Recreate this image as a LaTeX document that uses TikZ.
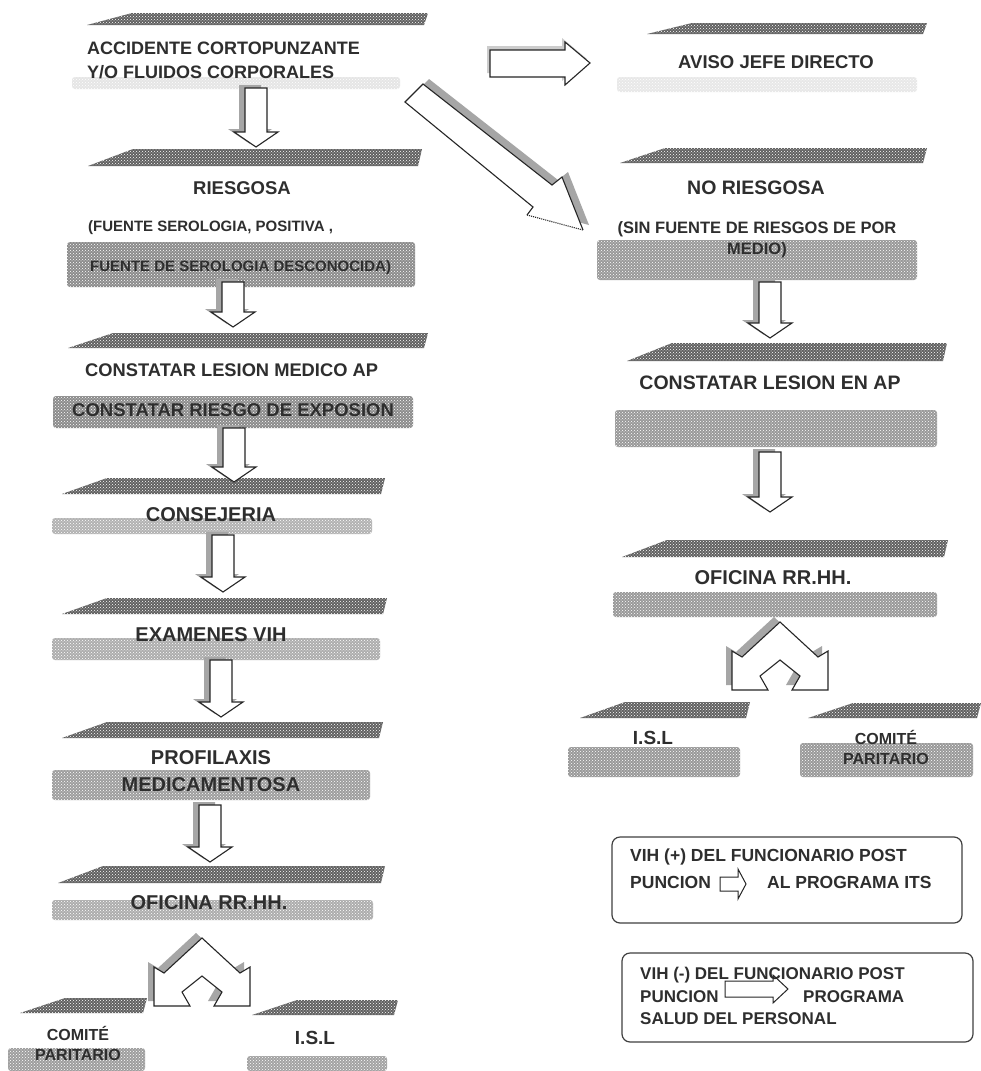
\documentclass[tikz,border=0pt]{standalone}
\usepackage{fontspec}
\setmainfont{Liberation Sans}
\usetikzlibrary{patterns}
\newcommand\tbar[4]{\fill[topbar] (#1,#4) -- ({#1+45},#3) -- (#2,#3) -- ({#2-4},#4) -- cycle;
  \fill[pattern=crosshatch dots, pattern color=white] (#1,#4) -- ({#1+45},#3) -- (#2,#3) -- ({#2-4},#4) -- cycle;}
\newcommand\bandr[5]{\fill[band=#5] (#1,#2) rectangle (#3,#4);
  \fill[pattern=crosshatch dots, pattern color=white, rounded corners=3pt] (#1,#2) rectangle (#3,#4);}
\newcommand\fs[1]{\fontsize{#1}{#1}\selectfont}
\begin{document}
\begin{tikzpicture}[x=1pt,y=-1pt,
  topbar/.style={fill=black!62},
  band/.style={fill=black!#1, rounded corners=3pt},
  lbl/.style={font=\bfseries, text=black!82, inner sep=0pt},
  blk/.style={draw=black!85, line width=1.1pt, fill=white, line join=miter},
  shd/.style={fill=black!35},
  rbox/.style={draw=black!75, line width=1.2pt, rounded corners=8pt, inner sep=0pt},
  pics/downarr/.style={code={
    \fill[shd,shift={(-6,-3)}] (-11,0) -- (11,0) -- (11,{#1-15}) -- (22,{#1-15}) -- (0,#1) -- (-22,{#1-15}) -- (-11,{#1-15}) -- cycle;
    \draw[blk] (-11,0) -- (11,0) -- (11,{#1-15}) -- (22,{#1-15}) -- (0,#1) -- (-22,{#1-15}) -- (-11,{#1-15}) -- cycle;
  }},
  pics/splitarr/.style={code={
    \fill[shd,shift={(-6,-5)}] (0,0) -- (38,35) -- (48,29) -- (48,68) -- (12,68) -- (20,54) -- (0,38) -- (-20,54) -- (-12,68) -- (-48,68) -- (-48,29) -- (-38,35) -- cycle;
    \draw[blk] (0,0) -- (38,35) -- (48,29) -- (48,68) -- (12,68) -- (20,54) -- (0,38) -- (-20,54) -- (-12,68) -- (-48,68) -- (-48,29) -- (-38,35) -- cycle;
  }}
]
\useasboundingbox (0,0) rectangle (981,1071);
\fill[white] (0,0) rectangle (981,1071);

% ---------- bars and bands: left column ----------
\tbar{87}{428}{13}{25}
\bandr{72}{77}{400}{89}{10}
\tbar{88}{422}{149}{166}
\bandr{67}{242}{415}{287}{45}
\tbar{68}{428}{333}{348}
\bandr{53}{396}{413}{428}{45}
\tbar{62}{385}{478}{494}
\bandr{52}{518}{372}{534}{30}
\tbar{62}{387}{598}{614}
\bandr{52}{638}{380}{660}{32}
\tbar{62}{383}{722}{738}
\bandr{52}{770}{370}{800}{38}
\tbar{58}{385}{866}{883}
\bandr{52}{900}{373}{920}{32}
\tbar{20}{147}{998}{1013}
\bandr{8}{1048}{145}{1071}{38}
\tbar{252}{398}{1000}{1015}
\bandr{247}{1056}{387}{1071}{36}

% ---------- bars and bands: right column ----------
\tbar{647}{927}{23}{34}
\bandr{617}{77}{917}{92}{9}
\tbar{620}{927}{148}{163}
\bandr{597}{240}{917}{280}{40}
\tbar{627}{947}{343}{361}
\bandr{615}{410}{937}{447}{40}
\tbar{622}{948}{540}{557}
\bandr{613}{592}{937}{617}{40}
\tbar{580}{750}{702}{718}
\bandr{568}{747}{740}{777}{40}
\tbar{808}{981}{703}{718}
\bandr{800}{743}{973}{777}{40}

% ---------- labels ----------
\node[lbl, anchor=west, align=left, font=\bfseries\fontsize{18}{24}\selectfont] (acc) at (87,60) {ACCIDENTE CORTOPUNZANTE\\Y/O FLUIDOS CORPORALES};
\node[lbl, font=\bfseries\fs{18.5}] (ries) at (242,188) {RIESGOSA};
\node[lbl, anchor=west, font=\bfseries\fs{15}] (fu1) at (88,228) {(FUENTE SEROLOGIA, POSITIVA ,};
\node[lbl, anchor=west, font=\bfseries\fs{15}] (fu2) at (90,268) {FUENTE DE SEROLOGIA DESCONOCIDA)};
\node[lbl, anchor=west, font=\bfseries\fs{18.3}] (cl1) at (85,370) {CONSTATAR LESION MEDICO AP};
\node[lbl, anchor=west, font=\bfseries\fs{18.5}] (cl2) at (72,410) {CONSTATAR RIESGO DE EXPOSION};
\node[lbl, font=\bfseries\fs{20}] (consej) at (211,515) {CONSEJERIA};
\node[lbl, font=\bfseries\fs{20}] (exam) at (211,635) {EXAMENES VIH};
\node[lbl, align=center, font=\bfseries\fontsize{20}{27}\selectfont] (prof) at (211,771) {PROFILAXIS\\MEDICAMENTOSA};
\node[lbl, font=\bfseries\fs{20}] (ofiL) at (209,903) {OFICINA RR.HH.};
\node[lbl, align=center, font=\bfseries\fontsize{16}{20}\selectfont] (comL) at (78,1043) {COMITÉ\\PARITARIO};
\node[lbl, font=\bfseries\fs{19}] (islL) at (315,1038) {I.S.L};

\node[lbl, font=\bfseries\fs{18.5}] (aviso) at (776,62) {AVISO JEFE DIRECTO};
\node[lbl, font=\bfseries\fs{19.5}] (nories) at (756,188) {NO RIESGOSA};
\node[lbl, align=center, font=\bfseries\fontsize{16.5}{21}\selectfont] (sin) at (757,240) {(SIN FUENTE DE RIESGOS DE POR\\MEDIO)};
\node[lbl, font=\bfseries\fs{19.5}] (clR) at (770,383) {CONSTATAR LESION EN AP};
\node[lbl, font=\bfseries\fs{20}] (ofiR) at (773,578) {OFICINA RR.HH.};
\node[lbl, font=\bfseries\fs{19}] (islR) at (653,738) {I.S.L};
\node[lbl, align=center, font=\bfseries\fontsize{16}{20}\selectfont] (comR) at (886,747) {COMITÉ\\PARITARIO};

% ---------- block arrows ----------
\pic (a1) at (256,88) {downarr=59};
\pic (a2) at (233,282) {downarr=45};
\pic (a3) at (234,428) {downarr=54};
\pic (a4) at (223,535) {downarr=57};
\pic (a5) at (221,660) {downarr=57};
\pic (a6) at (210,805) {downarr=57};
\pic (b1) at (770,282) {downarr=56};
\pic (b2) at (770,452) {downarr=60};
\pic (sL) at (202,938) {splitarr};
\pic (sR) at (780,622) {splitarr};

% right arrow to AVISO
\fill[black!20,shift={(-3,-4)}] (490,50) -- (565,50) -- (565,42) -- (590,63) -- (565,85) -- (565,77) -- (490,77) -- cycle;
\draw[blk] (490,50) -- (565,50) -- (565,42) -- (590,63) -- (565,85) -- (565,77) -- (490,77) -- cycle;

% diagonal arrow to NO RIESGOSA
\fill[shd,shift={(6,-5)}] (405,102) -- (423,84) -- (552,185) -- (562,177) -- (583,230) -- (527,215) -- (533,207) -- cycle;
\fill[white] (405,102) -- (423,84) -- (552,185) -- (562,177) -- (583,230) -- (527,215) -- (533,207) -- cycle;
\draw[blk, fill=none] (583,230) -- (562,177) -- (552,185) -- (423,84) -- (405,102) -- (533,207) -- (527,215);
\draw[black!85, line width=1.1pt, densely dotted] (527,215) -- (583,230);

% ---------- legend boxes ----------
\node[rbox, minimum width=350pt, minimum height=86pt] (box1) at (787,880) {};
\node[lbl, anchor=west, font=\bfseries\fs{17.5}] (b1l1) at (630,857) {VIH (+) DEL FUNCIONARIO POST};
\node[lbl, anchor=west, font=\bfseries\fs{17.5}] (b1l2) at (630,882) {PUNCION};
\node[lbl, anchor=west, font=\bfseries\fs{17.5}] (b1l3) at (767,882) {AL PROGRAMA ITS};
\draw[black!85, line width=1pt] (720,877) -- (738,877) -- (738,869) -- (746,884) -- (738,899) -- (738,891) -- (720,891) -- cycle;

\node[rbox, minimum width=351pt, minimum height=89pt] (box2) at (797.5,997.5) {};
\node[lbl, anchor=west, font=\bfseries\fs{17}] (b2l1) at (640,975) {VIH (-) DEL FUNCIONARIO POST};
\node[lbl, anchor=west, font=\bfseries\fs{17}] (b2l2) at (640,997) {PUNCION};
\node[lbl, anchor=west, font=\bfseries\fs{17}] (b2l3) at (803,997) {PROGRAMA};
\node[lbl, anchor=west, font=\bfseries\fs{17}] (b2l4) at (640,1019) {SALUD DEL PERSONAL};
\draw[black!85, line width=1pt] (725,981) -- (773,981) -- (773,975) -- (788,989) -- (773,1003) -- (773,997) -- (725,997) -- cycle;
\end{tikzpicture}
\end{document}
